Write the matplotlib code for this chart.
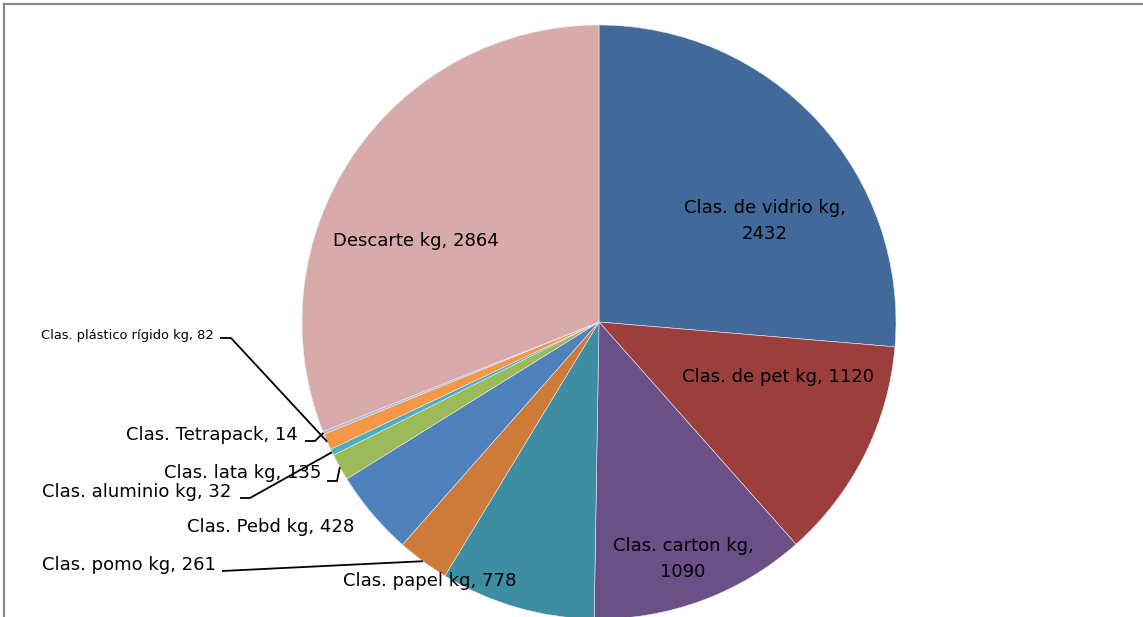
import matplotlib
matplotlib.use("Agg")
import matplotlib.pyplot as plt
import numpy as np

categories = ["Clas. de vidrio kg", "Clas. de pet kg", "Clas. carton kg", "Clas. papel kg",
              "Clas. pomo kg", "Clas. Pebd kg", "Clas. lata kg", "Clas. aluminio kg",
              "Clas. plástico rígido kg", "Clas. Tetrapack", "Descarte kg"]
values = [2432, 1120, 1090, 778, 261, 428, 135, 32, 82, 14, 2864]
colors = ["#416A9B", "#9C3F3C", "#6A5087", "#3D8DA3", "#CC7B38", "#4F81BD",
          "#9BBB59", "#4BACC6", "#F79646", "#A9B8DA", "#D9AAAA"]

W, H = 1143, 617
fig = plt.figure(figsize=(W / 100, H / 100), dpi=100)
ax = fig.add_axes([0, 0, 1, 1])

def Y(y):
    return H - y

cx, cy, r = 599, Y(322), 297
wedges, _ = ax.pie(values, colors=colors, startangle=90, counterclock=False,
                   center=(cx, cy), radius=r,
                   wedgeprops=dict(edgecolor="#E8E8F0", linewidth=0.4))
ax.set_xlim(0, W)
ax.set_ylim(0, H)
ax.set_aspect("equal")
ax.axis("off")

fs = 13
# label specs: (text, x, y, ha, size, elbow)
specs = [
    ("Clas. de vidrio kg,\n2432", 765, 221, "center", fs, None),
    ("Clas. de pet kg, 1120", 778, 377, "center", fs, None),
    ("Clas. carton kg,\n1090", 683, 559, "center", fs, None),
    ("Clas. papel kg, 778", 430, 581, "center", fs, None),
    ("Clas. pomo kg, 261", 216, 565, "right", fs, [(222, 571)]),
    ("Clas. Pebd kg, 428", 271, 527, "center", fs, None),
    ("Clas. lata kg, 135", 321, 473, "right", fs, [(327, 481), (337, 481)]),
    ("Clas. aluminio kg, 32", 231, 492, "right", fs, [(240, 498), (250, 498)]),
    ("Clas. plástico rígido kg, 82", 214, 335, "right", 9.4, [(220, 338), (231, 338)]),
    ("Clas. Tetrapack, 14", 298, 435, "right", fs, [(305, 441), (315, 441)]),
    ("Descarte kg, 2864", 416, 241, "center", fs, None),
]

for w, (txt, x, y, ha, size, elbow) in zip(wedges, specs):
    ax.text(x, Y(y), txt, ha=ha, va="center", fontsize=size, color="black",
            family="DejaVu Sans", linespacing=1.55, zorder=5)
    if elbow:
        mid = np.deg2rad((w.theta1 + w.theta2) / 2)
        ex, ey = cx + r * np.cos(mid), cy + r * np.sin(mid)
        xs = [p[0] for p in elbow] + [ex]
        ys = [Y(p[1]) for p in elbow] + [ey]
        ax.plot(xs, ys, color="black", lw=1.3, zorder=6, solid_capstyle="butt")

# chart frame (top and left edges visible)
ax.plot([4, W + 5], [Y(4), Y(4)], color="#888888", lw=1.6, zorder=7)
ax.plot([4, 4], [Y(4), -5], color="#888888", lw=1.6, zorder=7)

fig.savefig("out.png", dpi=100)
